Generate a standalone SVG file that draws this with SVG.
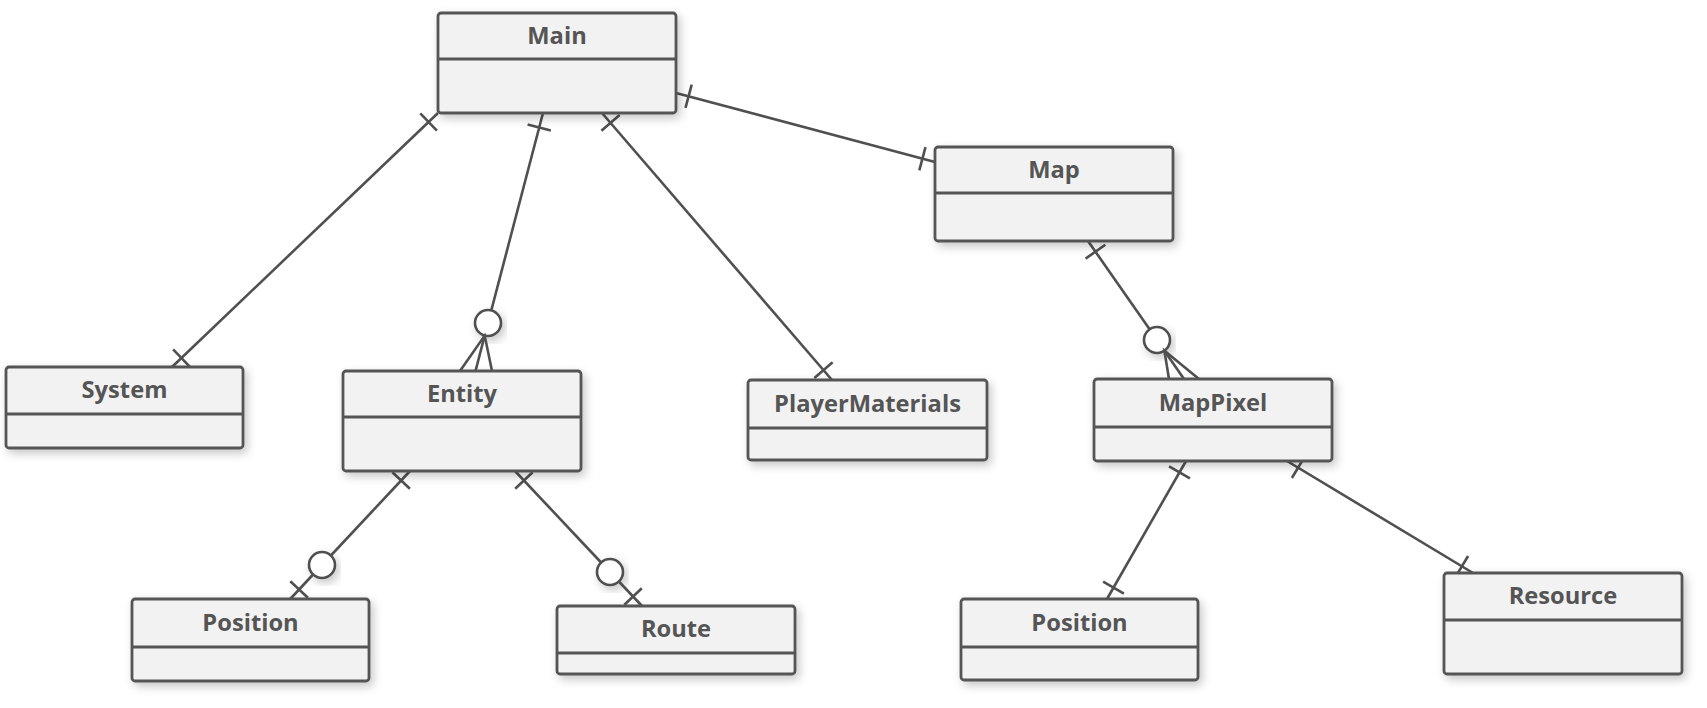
<svg xmlns="http://www.w3.org/2000/svg" width="1707" height="708" viewBox="0 0 1707 708">
<defs>
<filter id="sh" x="-20%" y="-30%" width="140%" height="160%">
<feDropShadow dx="3" dy="4" stdDeviation="5" flood-color="#000" flood-opacity="0.22"/>
</filter>
<style>
.box{fill:#f2f2f2;stroke:#555;stroke-width:2.8;filter:url(#sh)}
.div{stroke:#555;stroke-width:2.8;fill:none}
.lbl{font-family:"Open Sans","Liberation Sans",sans-serif;font-weight:bold;font-size:23.7px;fill:#555;text-anchor:middle}
.ln{stroke:#505050;stroke-width:2.6;fill:none;stroke-linecap:butt}
.circ{fill:#fff;stroke:#505050;stroke-width:2.6;filter:url(#sh)}
</style>
</defs>
<rect width="1707" height="708" fill="#fff"/>
<g id="connectors">
<!-- Main-System -->
<line class="ln" x1="438" y1="113" x2="172" y2="367"/>
<line class="ln" x1="420.3" y1="113.3" x2="436.9" y2="130.7"/>
<line class="ln" x1="173.1" y1="349.3" x2="189.7" y2="366.7"/>
<!-- Main-Entity -->
<line class="ln" x1="543" y1="113" x2="491.3" y2="310.4"/>
<line class="ln" x1="527.6" y1="124.5" x2="550.8" y2="130.5"/>
<circle class="circ" cx="488" cy="323" r="13"/>
<polyline class="ln" points="460,371 484.7,335.6 492,371"/>
<line class="ln" x1="484.7" y1="335.6" x2="475.5" y2="371"/>
<!-- Main-PlayerMaterials -->
<line class="ln" x1="602" y1="113" x2="832" y2="380"/>
<line class="ln" x1="601.4" y1="130.7" x2="619.6" y2="115.1"/>
<line class="ln" x1="814.4" y1="377.9" x2="832.6" y2="362.3"/>
<!-- Main-Map -->
<line class="ln" x1="676" y1="93" x2="935" y2="162"/>
<line class="ln" x1="685.5" y1="107.9" x2="691.7" y2="84.7"/>
<line class="ln" x1="919.3" y1="170.3" x2="925.5" y2="147.1"/>
<!-- Map-MapPixel -->
<line class="ln" x1="1088" y1="241" x2="1149.6" y2="329.3"/>
<line class="ln" x1="1085.6" y1="258.6" x2="1105.3" y2="244.8"/>
<circle class="circ" cx="1157" cy="340" r="13"/>
<polyline class="ln" points="1169,379 1164.4,350.7 1199,379"/>
<line class="ln" x1="1164.4" y1="350.7" x2="1184" y2="379"/>
<!-- Entity-Position -->
<line class="ln" x1="410" y1="471" x2="330.9" y2="555.5"/>
<line class="ln" x1="392.4" y1="472.3" x2="409.9" y2="488.7"/>
<circle class="circ" cx="322" cy="565" r="13"/>
<line class="ln" x1="313.1" y1="574.5" x2="290.2" y2="599"/>
<line class="ln" x1="290.3" y1="581.3" x2="307.9" y2="597.7"/>
<!-- Entity-Route -->
<line class="ln" x1="515" y1="471" x2="601.1" y2="562.5"/>
<line class="ln" x1="515.2" y1="488.7" x2="532.6" y2="472.3"/>
<circle class="circ" cx="610" cy="572" r="13"/>
<line class="ln" x1="618.9" y1="581.5" x2="642" y2="606"/>
<line class="ln" x1="624.4" y1="604.7" x2="641.8" y2="588.3"/>
<!-- MapPixel-Position -->
<line class="ln" x1="1186" y1="461" x2="1107" y2="599"/>
<line class="ln" x1="1169.1" y1="466.3" x2="1189.9" y2="478.3"/>
<line class="ln" x1="1103.1" y1="581.7" x2="1123.9" y2="593.7"/>
<!-- MapPixel-Resource -->
<line class="ln" x1="1287" y1="461" x2="1473" y2="573"/>
<line class="ln" x1="1291.9" y1="478" x2="1304.3" y2="457.4"/>
<line class="ln" x1="1455.7" y1="576.6" x2="1468.1" y2="556"/>
</g>
<g id="Main">
<rect class="box" x="438" y="13" width="238" height="100" rx="3"/>
<line class="div" x1="438" y1="59" x2="676" y2="59"/>
<text class="lbl" x="557" y="44">Main</text>
</g>
<g id="System">
<rect class="box" x="6" y="367" width="237" height="81" rx="3"/>
<line class="div" x1="6" y1="414" x2="243" y2="414"/>
<text class="lbl" x="124.5" y="398">System</text>
</g>
<g id="Entity">
<rect class="box" x="343" y="371" width="238" height="100" rx="3"/>
<line class="div" x1="343" y1="417" x2="581" y2="417"/>
<text class="lbl" x="462" y="402">Entity</text>
</g>
<g id="PlayerMaterials">
<rect class="box" x="748" y="380" width="239" height="80" rx="3"/>
<line class="div" x1="748" y1="428" x2="987" y2="428"/>
<text class="lbl" x="867.5" y="412">PlayerMaterials</text>
</g>
<g id="Map">
<rect class="box" x="935" y="147" width="238" height="94" rx="3"/>
<line class="div" x1="935" y1="193" x2="1173" y2="193"/>
<text class="lbl" x="1054" y="178">Map</text>
</g>
<g id="MapPixel">
<rect class="box" x="1094" y="379" width="238" height="82" rx="3"/>
<line class="div" x1="1094" y1="427" x2="1332" y2="427"/>
<text class="lbl" x="1213" y="411">MapPixel</text>
</g>
<g id="Position1">
<rect class="box" x="132" y="599" width="237" height="82" rx="3"/>
<line class="div" x1="132" y1="647" x2="369" y2="647"/>
<text class="lbl" x="250.5" y="631">Position</text>
</g>
<g id="Route">
<rect class="box" x="557" y="606" width="238" height="68" rx="3"/>
<line class="div" x1="557" y1="653" x2="795" y2="653"/>
<text class="lbl" x="676" y="637">Route</text>
</g>
<g id="Position2">
<rect class="box" x="961" y="599" width="237" height="81" rx="3"/>
<line class="div" x1="961" y1="647" x2="1198" y2="647"/>
<text class="lbl" x="1079.5" y="631">Position</text>
</g>
<g id="Resource">
<rect class="box" x="1444" y="573" width="238" height="101" rx="3"/>
<line class="div" x1="1444" y1="620" x2="1682" y2="620"/>
<text class="lbl" x="1563" y="604">Resource</text>
</g>
</svg>
